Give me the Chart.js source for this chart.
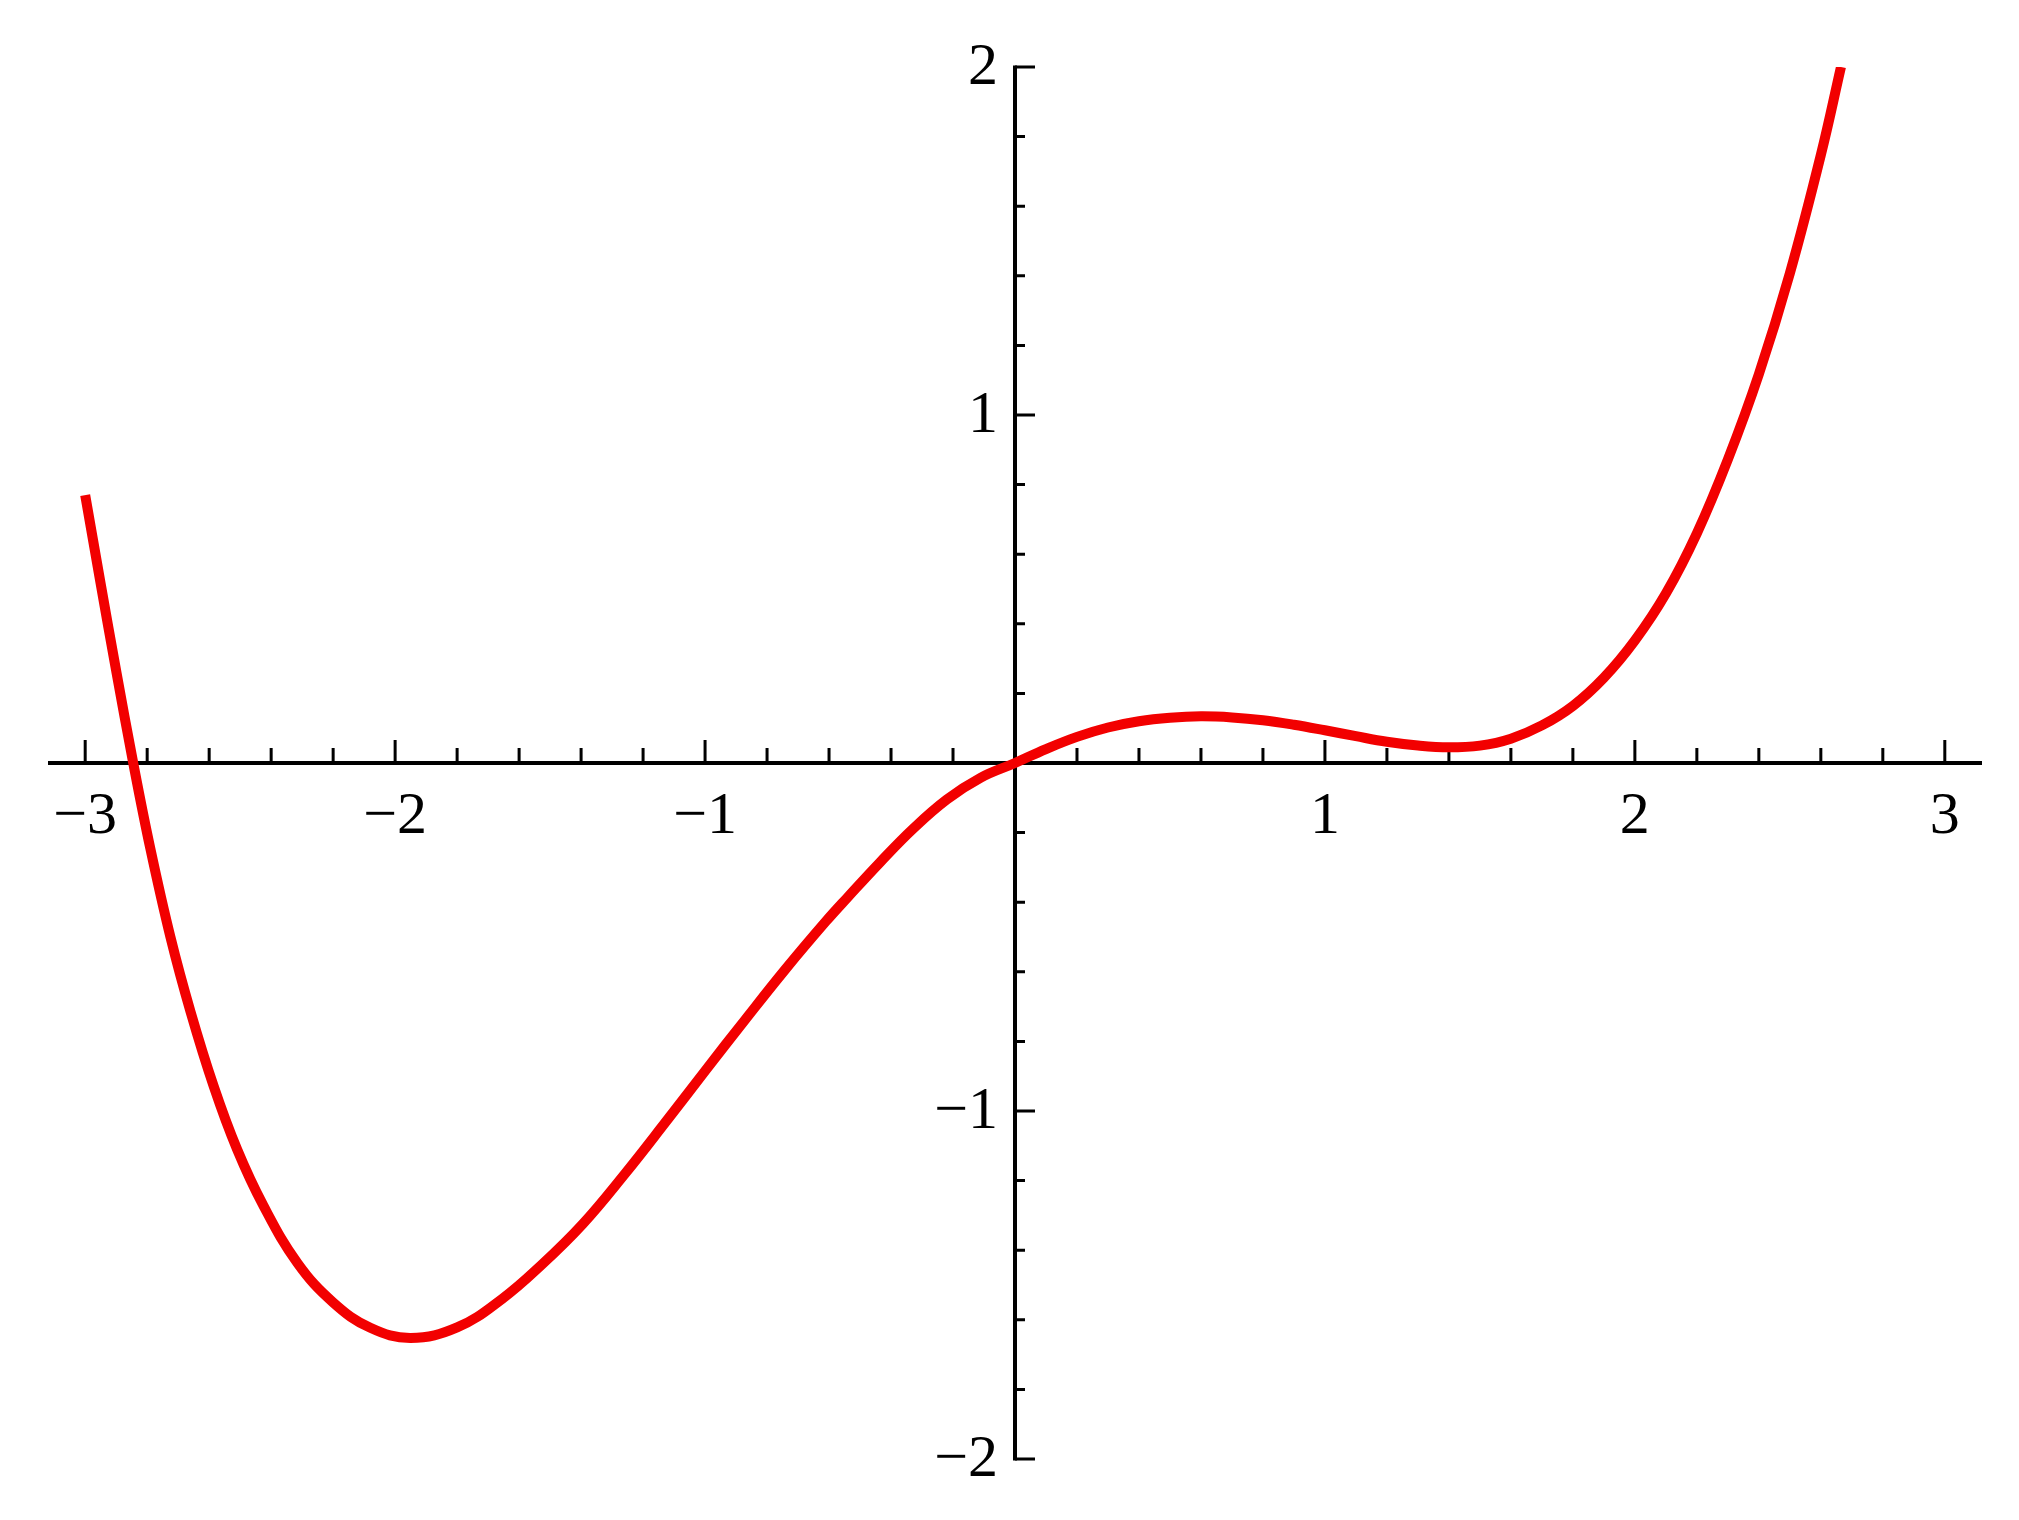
<html lang="en">
<head>
<meta charset="UTF-8">
<title>Polynomial curve</title>
<style>
    body {
        margin: 0;
        background-color: #ffffff;
    }
    #curveChart {
        display: block;
    }
</style>
</head>
<body>
    <canvas id="curveChart" width="2019" height="1520"></canvas>

    <script src="https://cdn.jsdelivr.net/npm/chart.js"></script>

    <script>
        // Points
        const xValues = [-3.0, -2.95, -2.9, -2.845, -2.79, -2.725, -2.66, -2.585, -2.51, -2.425, -2.315, -2.2, -2.08, -1.95,
            -1.8, -1.655, -1.525, -1.395, -1.26, -1.13, -1.0, -0.87, -0.74, -0.61, -0.54, -0.435, -0.33, -0.22, -0.11, 0,
            0.1, 0.2, 0.3, 0.4, 0.5, 0.6, 0.7, 0.8, 0.9, 1.0, 1.1, 1.2, 1.3, 1.4, 1.5, 1.6, 1.7, 1.8, 1.9,
            2.0, 2.1, 2.2, 2.3, 2.4, 2.5, 2.6, 2.665];
        const yValues = [0.77, 0.515, 0.265, 0.0, -0.245, -0.5, -0.715, -0.93, -1.11, -1.272, -1.437, -1.55, -1.623, -1.652,
            -1.622, -1.54, -1.44, -1.325, -1.182, -1.035, -0.885, -0.737, -0.592, -0.455, -0.386, -0.285, -0.19, -0.105, -0.042, 0,
            0.04, 0.075, 0.102, 0.12, 0.13, 0.134, 0.131, 0.123, 0.11, 0.094, 0.077, 0.061, 0.05, 0.045, 0.05, 0.07, 0.108, 0.164, 0.245,
            0.352, 0.487, 0.66, 0.872, 1.117, 1.407, 1.747, 2.0];

        // Axis ticks
        const xMajorTicks = [-3, -2, -1, 1, 2, 3];
        const xTickLabels = ['\u22123', '\u22122', '\u22121', '1', '2', '3'];
        const yMajorTicks = [-2, -1, 1, 2];
        const yTickLabels = ['\u22122', '\u22121', '1', '2'];

        const labelFont = '60px "Liberation Serif", "DejaVu Serif", serif';

        // Mathematica-style axes crossing at the origin, ticks pointing into the plot
        const axesPlugin = {
            id: 'originAxes',
            beforeDatasetsDraw(chart) {
                const ctx = chart.ctx;
                const xs = chart.scales.x;
                const ys = chart.scales.y;
                const x0 = xs.getPixelForValue(0);
                const y0 = ys.getPixelForValue(0);

                ctx.save();
                ctx.strokeStyle = '#000000';
                ctx.lineCap = 'butt';

                ctx.lineWidth = 4;
                ctx.beginPath();
                ctx.moveTo(xs.left, y0);
                ctx.lineTo(xs.right, y0);
                ctx.moveTo(x0, ys.getPixelForValue(ys.max) - 1.5);
                ctx.lineTo(x0, ys.getPixelForValue(ys.min) + 1.5);
                ctx.stroke();

                ctx.lineWidth = 3;
                ctx.beginPath();
                // x ticks every 0.2, longer at whole numbers
                for (let i = -15; i <= 15; i++) {
                    if (i === 0) continue;
                    const px = xs.getPixelForValue(i / 5);
                    const len = (i % 5 === 0) ? 23 : 15;
                    ctx.moveTo(px, y0);
                    ctx.lineTo(px, y0 - len);
                }
                // y ticks every 0.2
                for (let i = -10; i <= 10; i++) {
                    if (i === 0) continue;
                    const py = ys.getPixelForValue(i / 5);
                    const len = (i % 5 === 0) ? 20 : 10;
                    ctx.moveTo(x0, py);
                    ctx.lineTo(x0 + len, py);
                }
                ctx.stroke();

                ctx.fillStyle = '#000000';
                ctx.font = labelFont;
                ctx.textBaseline = 'alphabetic';

                ctx.textAlign = 'center';
                xMajorTicks.forEach((v, i) => {
                    ctx.fillText(xTickLabels[i], xs.getPixelForValue(v), y0 + 70);
                });

                ctx.textAlign = 'right';
                yMajorTicks.forEach((v, i) => {
                    ctx.fillText(yTickLabels[i], x0 - 17, ys.getPixelForValue(v) + 17);
                });
                ctx.restore();
            }
        };

        const ctx = document.getElementById('curveChart').getContext('2d');

        const curveChart = new Chart(ctx, {
            type: 'scatter',
            data: {
                datasets: [{
                    data: xValues.map((x, i) => ({ x: x, y: yValues[i] })),
                    showLine: true,
                    borderColor: '#f20000',
                    borderWidth: 10,
                    borderJoinStyle: 'round',
                    pointRadius: 0,
                    tension: 0.4,
                    fill: false
                }]
            },
            options: {
                responsive: false,
                animation: false,
                devicePixelRatio: 1,
                layout: {
                    padding: { left: 48, right: 37, top: 67, bottom: 61 }
                },
                plugins: {
                    legend: { display: false },
                    tooltip: { enabled: false }
                },
                scales: {
                    x: { type: 'linear', min: -3.12, max: 3.12, display: false },
                    y: { type: 'linear', min: -2, max: 2, display: false }
                }
            },
            plugins: [axesPlugin]
        });
    </script>
</body>
</html>
